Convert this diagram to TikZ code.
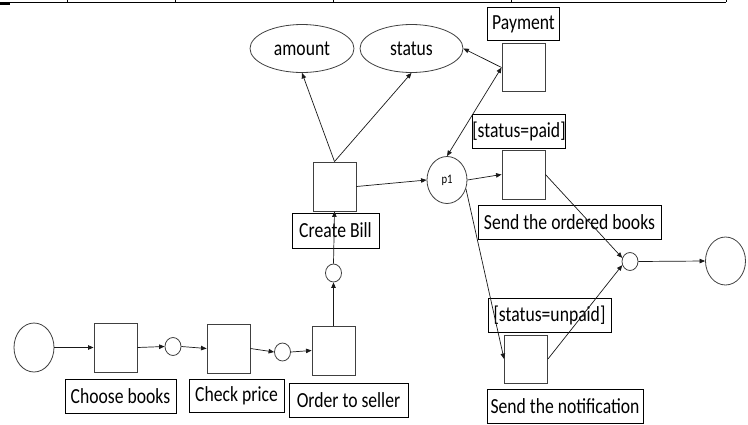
\documentclass[tikz,border=0pt]{standalone}
\usepackage{fontspec}
\setmainfont{Carlito}
\usepackage{graphicx}
\usetikzlibrary{arrows.meta,shapes.geometric}
\newcommand\sxt[1]{\scalebox{0.82}[1]{#1}}
\tikzset{
  lbl/.style={draw=black, line width=0.9pt, inner sep=0pt, font=\fontsize{21.5}{24}\selectfont},
  trans/.style={draw=black!75, line width=0.9pt, inner sep=0pt, minimum width=43pt, minimum height=49pt},
  place/.style={draw=black!75, line width=0.8pt, ellipse, inner sep=0pt},
  small/.style={place, minimum width=16pt, minimum height=18pt},
  attr/.style={place, minimum width=104pt, minimum height=48pt, font=\fontsize{21.5}{24}\selectfont},
  conn/.style={line width=0.7pt, draw=black!90, -{Triangle[length=5.5pt,width=4.5pt]}},
}
\begin{document}
\begin{tikzpicture}[x=1pt,y=-1pt]
\fill[white] (0,0) rectangle (748,424);
\useasboundingbox (0,0) rectangle (748,424);
% table remnant at top
\draw[line width=1pt] (0,2) -- (726,2);
\foreach \xx in {67,175,333,511,726} \draw[line width=1pt] (\xx,0) -- (\xx,2);
\fill (0,2) rectangle (10,4.5);

% places and transitions
\node[place, minimum width=40pt, minimum height=49pt] (s0) at (34,347.5) {};
\node[trans] (t1) at (115.5,347.5) {};
\node[lbl, minimum width=111pt, minimum height=34pt] (l1) at (120.5,396) {\sxt{Choose books}};
\node[small] (c1) at (173,346.5) {};
\node[trans] (t2) at (228.5,348.5) {};
\node[lbl, minimum width=95pt, minimum height=33pt] (l2) at (236.5,395.5) {\sxt{Check price}};
\node[small] (c2) at (282.5,352) {};
\node[trans] (t3) at (333.5,350.5) {};
\node[lbl, minimum width=119pt, minimum height=34pt] (l3) at (348.5,400) {\sxt{Order to seller}};
\node[small] (c3) at (333.5,273) {};
\node[trans] (t4) at (334.5,186.5) {};
\node[lbl, minimum width=87pt, minimum height=35pt] (l4) at (335.5,230.5) {\sxt{Create Bill}};
\node[attr] (amount) at (302,48.5) {\sxt{amount}};
\node[attr, minimum width=103pt] (status) at (411.5,48.5) {\sxt{status}};
\node[lbl, minimum width=72pt, minimum height=33pt] (l5) at (523.5,24) {\sxt{Payment}};
\node[trans, minimum height=48pt] (t5) at (523.5,67.5) {};
\node[place, minimum width=40pt, minimum height=47pt, font=\fontsize{13}{15}\selectfont] (p1) at (447,180) {\sxt{p1}};
\node[lbl, minimum width=82pt, minimum height=34pt] (l6) at (519,131) {\sxt{[status=paid]}};
\node[trans] (t6) at (523.5,174.5) {};
\node[lbl, minimum width=183pt, minimum height=34pt] (l7) at (569.5,222) {\sxt{Send the ordered books}};
\node[lbl, minimum width=123pt, minimum height=34pt] (l8) at (549.5,315) {\sxt{[status=unpaid]}};
\node[trans, minimum height=48pt] (t7) at (526,359) {};
\node[lbl, minimum width=156pt, minimum height=34pt] (l9) at (565,406) {\sxt{Send the notification}};
\node[small] (c4) at (630,261.5) {};
\node[place, minimum width=40pt, minimum height=48pt] (e0) at (725.5,261) {};

% connectors
\draw[conn] (s0.east) -- (t1.west);
\draw[conn] (t1.east) -- (c1.west);
\draw[conn] (c1.east) -- (t2.west);
\draw[conn] (t2.east) -- (c2.west);
\draw[conn] (c2.east) -- (t3.west);
\draw[conn] (t3.north) -- (c3.south);
\draw[conn] (c3.north) -- (t4.south);
\draw[conn] (t4.north) -- (amount.south);
\draw[conn] (t4.north) -- (status.south);
\draw[conn] (t4.east) -- (p1.west);
\draw[conn] (t5.west) -- (status.east);
\draw[conn, {Triangle[length=5.5pt,width=4.5pt]}-{Triangle[length=5.5pt,width=4.5pt]}] (t5.west) -- (p1.north);
\draw[conn] (p1.east) -- (t6.west);
\draw[conn] (p1.-25) -- (t7.west);
\draw[conn] (t6.east) -- (c4.155);
\draw[conn] (t7.east) -- (c4.205);
\draw[conn] (c4.east) -- (e0.west);
\end{tikzpicture}
\end{document}
